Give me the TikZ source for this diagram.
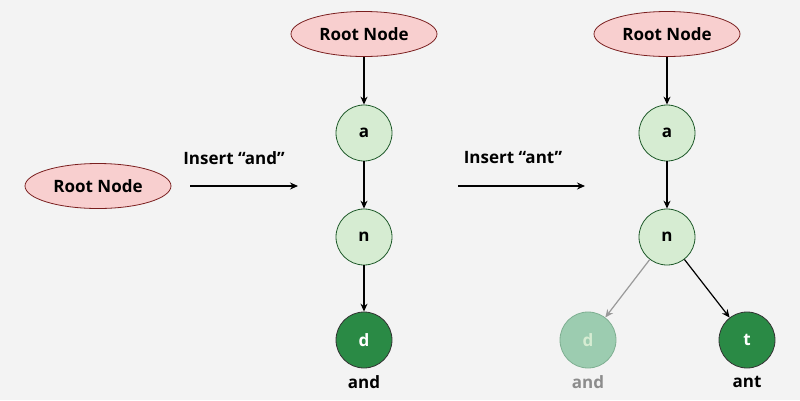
\documentclass[tikz,border=0pt]{standalone}
\usepackage{fontspec}
\setmainfont{Open Sans}
\usetikzlibrary{shapes.geometric,arrows.meta}
\definecolor{bg}{HTML}{F3F3F3}
\definecolor{pinkf}{HTML}{F8CFCF}
\definecolor{pinkd}{HTML}{7A1F1F}
\definecolor{lgf}{HTML}{D6ECD2}
\definecolor{lgd}{HTML}{1F5A2A}
\definecolor{dg}{HTML}{2A8A45}
\definecolor{fadef}{HTML}{9CCCB0}
\definecolor{faded}{HTML}{7FAF92}
\begin{document}
\begin{tikzpicture}[x=1pt,y=-1pt,
  every node/.style={font=\fontsize{17}{20}\selectfont\bfseries},
  rootn/.style={ellipse,draw=pinkd,fill=pinkf,line width=0.8pt,minimum width=146pt,minimum height=45pt,inner sep=0pt},
  lnode/.style={circle,draw=lgd,fill=lgf,line width=0.8pt,minimum size=56pt,inner sep=0pt},
  dnode/.style={circle,draw=black!80,fill=dg,text=white,line width=0.8pt,minimum size=56pt,inner sep=0pt},
  fnode/.style={circle,draw=faded,fill=fadef,text=lgf,line width=0.8pt,minimum size=56pt,inner sep=0pt},
  arr/.style={-{Stealth[length=8pt,width=7pt]},line width=1.2pt},
  farr/.style={arr,draw=black!40},
  lbl/.style={font=\fontsize{17}{20}\selectfont\bfseries}]
\fill[bg] (0,0) rectangle (800,400);
\useasboundingbox (0,0) rectangle (800,400);
\node[rootn] (r0) at (98,186) {Root Node};
\coordinate (h1s) at (190,186); \coordinate (h1e) at (298,186);
\draw[arr] (h1s) -- (h1e);
\node[lbl] (l1) at (234,158) {Insert “and”};
\node[rootn] (r1) at (364,34) {Root Node};
\node[lnode] (a1) at (364,133) {a};
\node[lnode] (n1) at (364,237) {n};
\node[dnode] (d1) at (364,340) {d};
\node[lbl] (w1) at (364,382) {and};
\draw[arr] (r1) -- (a1);
\draw[arr] (a1) -- (n1);
\draw[arr] (n1) -- (d1);
\coordinate (h2s) at (458,186); \coordinate (h2e) at (585,186);
\draw[arr] (h2s) -- (h2e);
\node[lbl] (l2) at (513,158) {Insert “ant”};
\node[rootn] (r2) at (667,34) {Root Node};
\node[lnode] (a2) at (667,133) {a};
\node[lnode] (n2) at (667,237) {n};
\node[fnode] (d2) at (588,340) {d};
\node[dnode] (t2) at (747,340) {t};
\node[lbl,text=black!45] (w2) at (588,382) {and};
\node[lbl] (w3) at (747,382) {ant};
\draw[arr] (r2) -- (a2);
\draw[arr] (a2) -- (n2);
\draw[farr] (n2) -- (d2);
\draw[arr] (n2) -- (t2);
\end{tikzpicture}
\end{document}
